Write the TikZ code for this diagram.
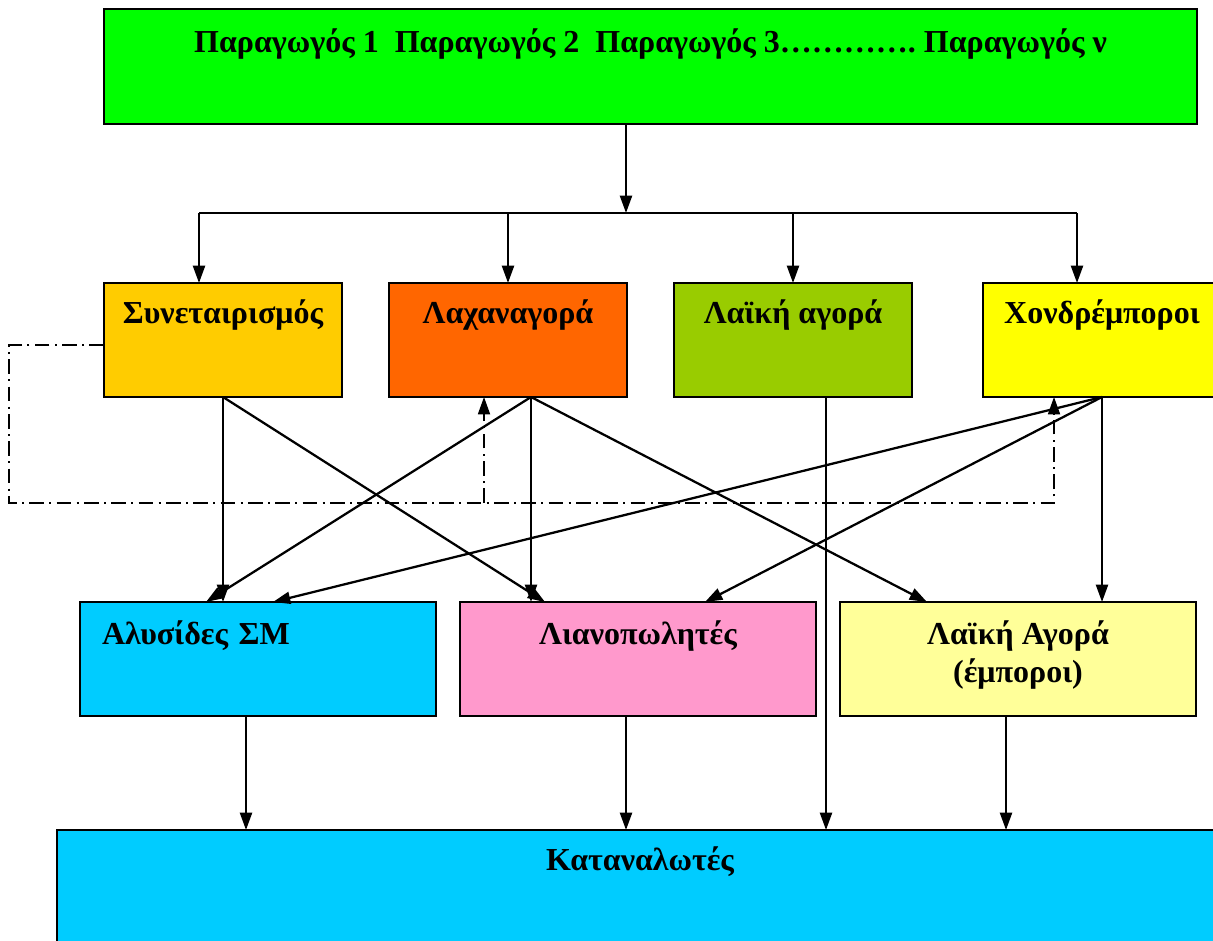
\documentclass[tikz,border=0pt]{standalone}
\usepackage{fontspec}
\setmainfont{Liberation Serif}
\usetikzlibrary{arrows.meta, positioning}
\definecolor{prodgreen}{HTML}{00FF00}
\definecolor{coopyellow}{HTML}{FFCC00}
\definecolor{laxorange}{HTML}{FF6600}
\definecolor{laikigreen}{HTML}{99CC00}
\definecolor{xondryellow}{HTML}{FFFF00}
\definecolor{chainblue}{HTML}{00CCFF}
\definecolor{retailpink}{HTML}{FF99CC}
\definecolor{marketcream}{HTML}{FFFF99}

\begin{document}
\begin{tikzpicture}[x=0.75pt,y=-0.75pt,line width=1.7pt,>={Triangle[length=13pt,width=9pt]},
      stage/.style={draw,anchor=north west,inner sep=0pt,outer sep=0pt,align=center,
        font=\fontsize{24}{28.5}\selectfont\bfseries},
      rowa/.style={stage,minimum width=178.5pt,text height=30pt,text depth=55.5pt},
      rowb/.style={stage,minimum width=267pt,text height=31.5pt,text depth=54pt},
      ctrlline/.style={line width=1.3pt,dash pattern=on 11pt off 4pt on 1.5pt off 4pt}]
      \useasboundingbox (0,0) rectangle (1213,940);
      \clip (0,0) rectangle (1213,940);
      % boxes
      \node[stage,fill=prodgreen,minimum width=819.75pt,text height=32.25pt,text depth=54pt]
        (prod) at (104,9) {Παραγωγός 1\ \ Παραγωγός 2\ \ Παραγωγός 3………….\ Παραγωγός ν};
      \node[rowa,fill=coopyellow]  (coop)  at (104,283) {Συνεταιρισμός};
      \node[rowa,fill=laxorange]   (lax)   at (389,283) {Λαχαναγορά};
      \node[rowa,fill=laikigreen]  (laiki) at (674,283) {Λαϊκή αγορά};
      \node[rowa,fill=xondryellow] (xondr) at (983,283) {Χονδρέμποροι};
      \node[rowb,fill=chainblue,align=left,text width=234pt,inner xsep=16.5pt]
        (chains) at (80,602) {Αλυσίδες ΣΜ};
      \node[rowb,fill=retailpink]  (retail) at (460,602) {Λιανοπωλητές};
      \node[rowb,fill=marketcream,text height=60pt,text depth=25.5pt]
        (market) at (840,602) {Λαϊκή Αγορά\\(έμποροι)};
      \node[stage,fill=chainblue,minimum width=874.5pt,text height=30pt,text depth=60pt]
        (cons) at (57,830) {Καταναλωτές};
      % producers to the four channels
      \coordinate (split) at (626,213);
      \path[->] (prod.south -| split) edge (split);
      \draw ([xshift=-18pt]coop.north |- split) -- ([xshift=-18.75pt]xondr.north |- split);
      \path[->]
      ([xshift=-18pt]coop.north |- split) edge ([xshift=-18pt]coop.north)
      (lax.north |- split) edge (lax.north)
      (laiki.north |- split) edge (laiki.north)
      ([xshift=-18.75pt]xondr.north |- split) edge ([xshift=-18.75pt]xondr.north);
      % channels to sellers
      \coordinate (laxo) at ([xshift=17.25pt]lax.south);
      \coordinate (laikio) at ([xshift=24.75pt]laiki.south);
      \path[->]
      (coop.south) edge (coop.south |- chains.north)
      (coop.south) edge ([xshift=-69.75pt]retail.north)
      (laxo) edge ([xshift=-39pt]chains.north)
      (laxo) edge (laxo |- retail.north)
      (laxo) edge ([xshift=-68.25pt]market.north)
      (laikio) edge (laikio |- cons.north)
      (xondr.south) edge (xondr.south |- market.north)
      (xondr.south) edge ([xshift=50.25pt]retail.north)
      (xondr.south) edge ([xshift=11.25pt]chains.north);
      % sellers to consumers
      \path[->]
      ([xshift=-9pt]chains.south) edge ([xshift=-9pt]chains.south |- cons.north)
      ([xshift=-9pt]retail.south) edge ([xshift=-9pt]retail.south |- cons.north)
      ([xshift=-9pt]market.south) edge ([xshift=-9pt]market.south |- cons.north);
      % dash-dot feedback
      \coordinate (loop) at (9,503);
      \draw[ctrlline,->] ([yshift=-3.75pt]coop.west) -| (loop) -| ([xshift=-36pt]xondr.south);
      \draw[ctrlline,->] ([xshift=-18pt]lax.south |- loop) -- ([xshift=-18pt]lax.south);
    \end{tikzpicture}
\end{document}
